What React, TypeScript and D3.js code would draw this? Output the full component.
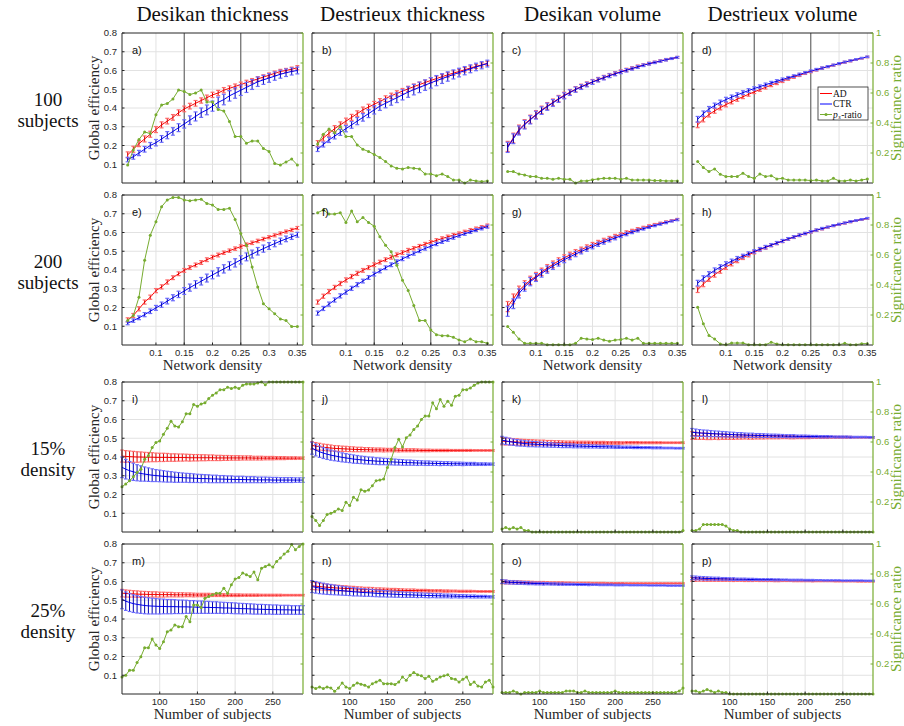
import React from "react";
import * as d3 from "d3";

// x values
const densities = [0.05, 0.06, 0.07, 0.08, 0.09, 0.1, 0.11, 0.12, 0.13, 0.14, 0.15, 0.16, 0.17, 0.18, 0.19, 0.2, 0.21, 0.22, 0.23, 0.24, 0.25, 0.26, 0.27, 0.28, 0.29, 0.3, 0.31, 0.32, 0.33, 0.34, 0.35];
const subjects = [50, 55, 60, 65, 70, 75, 80, 85, 90, 95, 100, 105, 110, 115, 120, 125, 130, 135, 140, 145, 150, 155, 160, 165, 170, 175, 180, 185, 190, 195, 200, 205, 210, 215, 220, 225, 230, 235, 240, 245, 250, 255, 260, 265, 270, 275, 280, 285, 290];

const densityTicks = [0.1, 0.15, 0.2, 0.25, 0.3, 0.35];
const subjectTicks = [100, 150, 200, 250];
const effTicks = [0.1, 0.2, 0.3, 0.4, 0.5, 0.6, 0.7, 0.8];
const ratioTicks = [0.2, 0.4, 0.6, 0.8, 1];
const markDensities = [0.15, 0.25];

const colTitles = ["Desikan thickness", "Destrieux thickness", "Desikan volume", "Destrieux volume"];
const rowTitles = [["100", "subjects"], ["200", "subjects"], ["15%", "density"], ["25%", "density"]];

// ---- rows 1-2: global efficiency vs network density ----
const adA = [0.150, 0.180, 0.210, 0.235, 0.260, 0.285, 0.310, 0.330, 0.350, 0.375, 0.395, 0.410, 0.425, 0.440, 0.455, 0.470, 0.480, 0.495, 0.505, 0.515, 0.525, 0.535, 0.545, 0.555, 0.565, 0.575, 0.585, 0.595, 0.600, 0.607, 0.615];
const ctrA = [0.125, 0.140, 0.160, 0.180, 0.200, 0.215, 0.235, 0.255, 0.275, 0.295, 0.315, 0.335, 0.355, 0.375, 0.390, 0.410, 0.430, 0.445, 0.465, 0.480, 0.495, 0.510, 0.525, 0.540, 0.550, 0.560, 0.570, 0.580, 0.588, 0.595, 0.600];
const ratioA = [0.12, 0.22, 0.29, 0.34, 0.33, 0.455, 0.52, 0.53, 0.56, 0.62, 0.61, 0.59, 0.60, 0.62, 0.54, 0.54, 0.49, 0.48, 0.41, 0.31, 0.31, 0.265, 0.28, 0.28, 0.23, 0.21, 0.13, 0.12, 0.14, 0.16, 0.12];

const adB = [0.210, 0.240, 0.265, 0.290, 0.310, 0.330, 0.350, 0.370, 0.390, 0.405, 0.420, 0.435, 0.450, 0.465, 0.478, 0.490, 0.502, 0.514, 0.525, 0.536, 0.547, 0.557, 0.567, 0.577, 0.586, 0.595, 0.604, 0.613, 0.622, 0.630, 0.638];
const ctrB = [0.180, 0.205, 0.230, 0.250, 0.270, 0.290, 0.310, 0.330, 0.350, 0.370, 0.390, 0.410, 0.425, 0.440, 0.455, 0.470, 0.485, 0.498, 0.510, 0.522, 0.534, 0.546, 0.557, 0.568, 0.579, 0.589, 0.599, 0.609, 0.619, 0.628, 0.637];
const ratioB = [0.26, 0.325, 0.36, 0.335, 0.377, 0.31, 0.31, 0.254, 0.225, 0.21, 0.19, 0.17, 0.143, 0.114, 0.098, 0.094, 0.103, 0.098, 0.094, 0.06, 0.06, 0.049, 0.06, 0.043, 0.02, 0.02, 0.0, 0.02, 0.014, 0.01, 0.014];

const adC = [0.195, 0.240, 0.285, 0.315, 0.340, 0.365, 0.390, 0.410, 0.430, 0.450, 0.468, 0.484, 0.500, 0.514, 0.527, 0.540, 0.552, 0.563, 0.574, 0.584, 0.594, 0.603, 0.612, 0.621, 0.629, 0.637, 0.644, 0.651, 0.658, 0.664, 0.670];
const ctrC = [0.190, 0.236, 0.280, 0.311, 0.337, 0.362, 0.386, 0.407, 0.427, 0.447, 0.465, 0.482, 0.498, 0.512, 0.525, 0.538, 0.550, 0.561, 0.572, 0.582, 0.592, 0.601, 0.610, 0.619, 0.628, 0.636, 0.643, 0.650, 0.657, 0.664, 0.670];
const ratioC = [0.076, 0.076, 0.06, 0.054, 0.043, 0.043, 0.031, 0.031, 0.025, 0.031, 0.025, 0.025, 0.0, 0.014, 0.014, 0.022, 0.027, 0.031, 0.031, 0.031, 0.025, 0.031, 0.02, 0.02, 0.02, 0.02, 0.016, 0.016, 0.014, 0.014, 0.014];

const adD = [0.310, 0.340, 0.365, 0.385, 0.402, 0.418, 0.433, 0.447, 0.460, 0.473, 0.486, 0.498, 0.510, 0.522, 0.533, 0.544, 0.555, 0.565, 0.575, 0.585, 0.594, 0.603, 0.612, 0.620, 0.628, 0.636, 0.644, 0.651, 0.658, 0.665, 0.672];
const ctrD = [0.340, 0.370, 0.395, 0.413, 0.430, 0.445, 0.458, 0.470, 0.482, 0.493, 0.504, 0.514, 0.524, 0.534, 0.543, 0.552, 0.561, 0.570, 0.579, 0.588, 0.597, 0.605, 0.613, 0.621, 0.629, 0.637, 0.645, 0.652, 0.659, 0.666, 0.673];
const ratioD = [0.143, 0.103, 0.076, 0.094, 0.058, 0.043, 0.043, 0.043, 0.065, 0.043, 0.031, 0.06, 0.043, 0.049, 0.027, 0.031, 0.02, 0.02, 0.02, 0.02, 0.016, 0.02, 0.014, 0.014, 0.031, 0.014, 0.014, 0.02, 0.014, 0.02, 0.027];

const adE = [0.134, 0.157, 0.193, 0.229, 0.255, 0.290, 0.310, 0.336, 0.359, 0.380, 0.398, 0.413, 0.427, 0.440, 0.455, 0.468, 0.480, 0.492, 0.503, 0.514, 0.525, 0.535, 0.545, 0.555, 0.565, 0.575, 0.585, 0.595, 0.605, 0.614, 0.624];
const ctrE = [0.116, 0.130, 0.145, 0.162, 0.180, 0.198, 0.215, 0.234, 0.252, 0.270, 0.288, 0.306, 0.323, 0.340, 0.357, 0.374, 0.390, 0.406, 0.422, 0.438, 0.454, 0.470, 0.485, 0.500, 0.514, 0.528, 0.541, 0.554, 0.566, 0.577, 0.588];
const ratioE = [0.163, 0.196, 0.319, 0.565, 0.732, 0.821, 0.922, 0.967, 0.984, 0.984, 0.967, 0.962, 0.967, 0.971, 0.944, 0.933, 0.904, 0.904, 0.911, 0.837, 0.743, 0.665, 0.52, 0.386, 0.275, 0.241, 0.208, 0.174, 0.163, 0.123, 0.123];

const adF = [0.229, 0.260, 0.285, 0.307, 0.328, 0.347, 0.365, 0.382, 0.398, 0.413, 0.428, 0.442, 0.455, 0.468, 0.481, 0.493, 0.505, 0.516, 0.527, 0.538, 0.548, 0.558, 0.568, 0.577, 0.586, 0.595, 0.604, 0.613, 0.621, 0.629, 0.637];
const ctrF = [0.170, 0.195, 0.218, 0.240, 0.262, 0.282, 0.302, 0.322, 0.341, 0.360, 0.378, 0.395, 0.412, 0.428, 0.444, 0.460, 0.474, 0.488, 0.502, 0.515, 0.527, 0.539, 0.551, 0.562, 0.573, 0.583, 0.593, 0.603, 0.613, 0.622, 0.631];
const ratioF = [0.882, 0.9, 0.873, 0.873, 0.882, 0.817, 0.893, 0.821, 0.85, 0.817, 0.792, 0.721, 0.665, 0.621, 0.531, 0.431, 0.364, 0.263, 0.163, 0.163, 0.1, 0.069, 0.062, 0.062, 0.051, 0.033, 0.022, 0.04, 0.022, 0.022, 0.011];

const adG = [0.205, 0.246, 0.290, 0.320, 0.345, 0.366, 0.390, 0.410, 0.430, 0.448, 0.465, 0.480, 0.495, 0.509, 0.522, 0.535, 0.547, 0.558, 0.569, 0.580, 0.590, 0.600, 0.609, 0.618, 0.626, 0.634, 0.642, 0.649, 0.656, 0.663, 0.670];
const ctrG = [0.180, 0.220, 0.275, 0.310, 0.338, 0.360, 0.382, 0.402, 0.421, 0.438, 0.455, 0.470, 0.485, 0.499, 0.512, 0.525, 0.537, 0.549, 0.560, 0.571, 0.582, 0.592, 0.602, 0.611, 0.620, 0.629, 0.637, 0.645, 0.653, 0.661, 0.668];
const ratioG = [0.123, 0.085, 0.04, 0.011, 0.011, 0.011, 0.011, 0.002, 0.002, 0.002, 0.002, 0.002, 0.011, 0.045, 0.04, 0.036, 0.045, 0.033, 0.025, 0.033, 0.036, 0.045, 0.033, 0.045, 0.011, 0.011, 0.011, 0.011, 0.011, 0.011, 0.011];

const adH = [0.295, 0.325, 0.352, 0.375, 0.395, 0.415, 0.433, 0.450, 0.466, 0.480, 0.495, 0.508, 0.520, 0.532, 0.543, 0.554, 0.565, 0.575, 0.585, 0.594, 0.603, 0.612, 0.620, 0.628, 0.636, 0.643, 0.650, 0.657, 0.663, 0.669, 0.675];
const ctrH = [0.330, 0.355, 0.378, 0.398, 0.416, 0.432, 0.447, 0.461, 0.474, 0.487, 0.499, 0.511, 0.522, 0.533, 0.544, 0.555, 0.566, 0.576, 0.586, 0.595, 0.604, 0.613, 0.621, 0.629, 0.637, 0.644, 0.651, 0.658, 0.664, 0.670, 0.676];
const ratioH = [0.252, 0.141, 0.063, 0.04, 0.007, 0.002, 0.013, 0.013, 0.013, 0.002, 0.002, 0.002, 0.002, 0.018, 0.007, 0.002, 0.002, 0.002, 0.002, 0.002, 0.002, 0.002, 0.002, 0.002, 0.002, 0.002, 0.011, 0.002, 0.002, 0.009, 0.009];

// error half-widths, density rows
const errThickAD = [0.016, 0.016, 0.016, 0.016, 0.016, 0.016, 0.016, 0.015, 0.015, 0.015, 0.015, 0.015, 0.015, 0.014, 0.014, 0.014, 0.014, 0.014, 0.013, 0.013, 0.013, 0.013, 0.012, 0.012, 0.012, 0.012, 0.012, 0.011, 0.011, 0.011, 0.011];
const errThickCTR = [0.012, 0.013, 0.014, 0.015, 0.016, 0.017, 0.018, 0.019, 0.020, 0.021, 0.022, 0.023, 0.024, 0.025, 0.026, 0.027, 0.028, 0.028, 0.028, 0.028, 0.028, 0.027, 0.026, 0.025, 0.024, 0.023, 0.022, 0.021, 0.020, 0.019, 0.018];
const errThick200AD = [0.011, 0.011, 0.011, 0.011, 0.011, 0.011, 0.011, 0.011, 0.010, 0.010, 0.010, 0.010, 0.010, 0.010, 0.010, 0.010, 0.010, 0.009, 0.009, 0.009, 0.009, 0.009, 0.009, 0.009, 0.009, 0.008, 0.008, 0.008, 0.008, 0.008, 0.008];
const errThick200CTR = [0.008, 0.009, 0.010, 0.011, 0.012, 0.013, 0.014, 0.015, 0.016, 0.017, 0.018, 0.019, 0.020, 0.020, 0.021, 0.021, 0.022, 0.022, 0.022, 0.022, 0.022, 0.021, 0.021, 0.020, 0.019, 0.018, 0.017, 0.016, 0.015, 0.014, 0.013];
const errVolLarge = [0.027, 0.026, 0.024, 0.023, 0.022, 0.021, 0.020, 0.019, 0.018, 0.017, 0.016, 0.015, 0.014, 0.013, 0.012, 0.012, 0.011, 0.011, 0.010, 0.010, 0.009, 0.009, 0.008, 0.008, 0.007, 0.007, 0.006, 0.006, 0.006, 0.005, 0.005];
const errVolSmall = [0.015, 0.014, 0.013, 0.013, 0.012, 0.012, 0.011, 0.011, 0.010, 0.010, 0.009, 0.009, 0.009, 0.008, 0.008, 0.008, 0.007, 0.007, 0.007, 0.006, 0.006, 0.006, 0.006, 0.005, 0.005, 0.005, 0.005, 0.005, 0.004, 0.004, 0.004];

// ---- rows 3-4: global efficiency vs number of subjects ----
const adI = [0.405, 0.403, 0.402, 0.401, 0.400, 0.400, 0.399, 0.399, 0.399, 0.398,
  0.398, 0.398, 0.398, 0.397, 0.397, 0.397, 0.397, 0.397, 0.396, 0.396,
  0.396, 0.396, 0.396, 0.396, 0.396, 0.395, 0.395, 0.395, 0.395, 0.395,
  0.395, 0.395, 0.395, 0.395, 0.395, 0.394, 0.394, 0.394, 0.394, 0.394,
  0.394, 0.394, 0.394, 0.394, 0.394, 0.394, 0.394, 0.394, 0.394];
const ctrI = [0.345, 0.335, 0.327, 0.321, 0.316, 0.312, 0.309, 0.306, 0.303, 0.301,
  0.299, 0.297, 0.295, 0.294, 0.292, 0.291, 0.290, 0.289, 0.288, 0.287,
  0.286, 0.285, 0.285, 0.284, 0.283, 0.283, 0.282, 0.282, 0.281, 0.281,
  0.280, 0.280, 0.280, 0.279, 0.279, 0.279, 0.278, 0.278, 0.278, 0.278,
  0.277, 0.277, 0.277, 0.277, 0.277, 0.277, 0.277, 0.277, 0.277];
const ratioI = [0.302, 0.32, 0.342, 0.368, 0.397, 0.419, 0.485, 0.508, 0.563, 0.596,
  0.607, 0.651, 0.691, 0.739, 0.706, 0.70, 0.735, 0.788, 0.788, 0.85,
  0.839, 0.854, 0.861, 0.89, 0.912, 0.927, 0.949, 0.949, 0.965, 0.956,
  0.965, 0.956, 0.978, 0.987, 0.987, 0.987, 0.993, 1, 0.982, 1,
  1, 1, 1, 1, 1, 1, 1, 1, 1];

const adJ = [0.462, 0.458, 0.455, 0.452, 0.450, 0.448, 0.446, 0.445, 0.444, 0.443,
  0.442, 0.441, 0.440, 0.440, 0.439, 0.439, 0.438, 0.438, 0.438, 0.437,
  0.437, 0.437, 0.437, 0.436, 0.436, 0.436, 0.436, 0.436, 0.436, 0.435,
  0.435, 0.435, 0.435, 0.435, 0.435, 0.435, 0.435, 0.435, 0.435, 0.435,
  0.435, 0.435, 0.435, 0.435, 0.435, 0.435, 0.435, 0.435, 0.435];
const ctrJ = [0.447, 0.437, 0.428, 0.421, 0.415, 0.410, 0.406, 0.402, 0.398, 0.395,
  0.392, 0.389, 0.387, 0.385, 0.383, 0.381, 0.380, 0.378, 0.377, 0.376,
  0.375, 0.374, 0.373, 0.372, 0.371, 0.370, 0.370, 0.369, 0.368, 0.368,
  0.367, 0.367, 0.366, 0.366, 0.365, 0.365, 0.365, 0.364, 0.364, 0.364,
  0.363, 0.363, 0.363, 0.363, 0.362, 0.362, 0.362, 0.362, 0.362];
const ratioJ = [0.103, 0.077, 0.044, 0.077, 0.117, 0.125, 0.136, 0.154, 0.143, 0.198,
  0.176, 0.231, 0.214, 0.282, 0.271, 0.28, 0.309, 0.342, 0.346, 0.353,
  0.43, 0.485, 0.563, 0.618, 0.567, 0.629, 0.647, 0.684, 0.706, 0.75,
  0.773, 0.773, 0.861, 0.821, 0.883, 0.839, 0.872, 0.845, 0.905, 0.912,
  0.949, 0.949, 0.96, 0.978, 0.993, 1, 1, 1, 1];

const adK = [0.485, 0.483, 0.482, 0.481, 0.480, 0.479, 0.479, 0.478, 0.478, 0.477,
  0.477, 0.477, 0.476, 0.476, 0.476, 0.476, 0.475, 0.475, 0.475, 0.475,
  0.475, 0.475, 0.475, 0.475, 0.475, 0.475, 0.475, 0.475, 0.475, 0.475,
  0.475, 0.475, 0.475, 0.476, 0.476, 0.476, 0.476, 0.476, 0.476, 0.476,
  0.476, 0.476, 0.476, 0.476, 0.476, 0.476, 0.476, 0.476, 0.476];
const ctrK = [0.490, 0.486, 0.482, 0.479, 0.476, 0.474, 0.472, 0.470, 0.469, 0.468,
  0.467, 0.466, 0.465, 0.464, 0.463, 0.462, 0.461, 0.460, 0.460, 0.459,
  0.458, 0.458, 0.457, 0.457, 0.456, 0.456, 0.455, 0.455, 0.454, 0.454,
  0.453, 0.453, 0.452, 0.452, 0.452, 0.451, 0.451, 0.450, 0.450, 0.450,
  0.449, 0.449, 0.449, 0.448, 0.448, 0.448, 0.447, 0.447, 0.447];
const ratioK = [0.02, 0.03, 0.02, 0.03, 0.02, 0.03, 0.01, 0.01, 0, 0,
  0, 0, 0, 0, 0, 0, 0, 0, 0, 0,
  0, 0, 0, 0, 0, 0, 0, 0, 0, 0,
  0, 0, 0, 0, 0, 0, 0, 0, 0, 0,
  0, 0, 0, 0, 0, 0, 0, 0, 0.01];

const adL = [0.515, 0.513, 0.512, 0.511, 0.510, 0.509, 0.509, 0.508, 0.508, 0.508,
  0.507, 0.507, 0.507, 0.507, 0.507, 0.506, 0.506, 0.506, 0.506, 0.506,
  0.506, 0.506, 0.506, 0.506, 0.506, 0.506, 0.505, 0.505, 0.505, 0.505,
  0.505, 0.505, 0.505, 0.505, 0.505, 0.505, 0.505, 0.505, 0.505, 0.505,
  0.505, 0.505, 0.505, 0.505, 0.505, 0.505, 0.505, 0.505, 0.505];
const ctrL = [0.532, 0.530, 0.528, 0.527, 0.526, 0.525, 0.524, 0.523, 0.522, 0.521,
  0.520, 0.519, 0.518, 0.518, 0.517, 0.516, 0.516, 0.515, 0.515, 0.514,
  0.514, 0.513, 0.513, 0.512, 0.512, 0.511, 0.511, 0.511, 0.510, 0.510,
  0.510, 0.509, 0.509, 0.509, 0.508, 0.508, 0.508, 0.508, 0.507, 0.507,
  0.507, 0.507, 0.506, 0.506, 0.506, 0.506, 0.506, 0.505, 0.505];
const ratioL = [0.01, 0.01, 0.02, 0.05, 0.05, 0.05, 0.05, 0.05, 0.05, 0.04,
  0.02, 0.01, 0.01, 0, 0, 0, 0, 0, 0, 0,
  0, 0, 0, 0, 0, 0, 0, 0, 0, 0,
  0, 0, 0, 0, 0, 0, 0, 0, 0, 0,
  0, 0, 0, 0, 0, 0, 0, 0, 0];

const adM = [0.538, 0.536, 0.535, 0.534, 0.533, 0.532, 0.532, 0.531, 0.531, 0.531,
  0.530, 0.530, 0.530, 0.530, 0.529, 0.529, 0.529, 0.529, 0.529, 0.528,
  0.528, 0.528, 0.528, 0.528, 0.528, 0.528, 0.528, 0.527, 0.527, 0.527,
  0.527, 0.527, 0.527, 0.527, 0.527, 0.527, 0.527, 0.527, 0.527, 0.527,
  0.527, 0.527, 0.527, 0.527, 0.527, 0.527, 0.527, 0.527, 0.527];
const ctrM = [0.505, 0.495, 0.488, 0.482, 0.478, 0.475, 0.472, 0.470, 0.469, 0.468,
  0.467, 0.467, 0.466, 0.466, 0.466, 0.465, 0.465, 0.465, 0.464, 0.464,
  0.463, 0.463, 0.462, 0.462, 0.461, 0.461, 0.460, 0.459, 0.459, 0.458,
  0.457, 0.456, 0.455, 0.455, 0.454, 0.453, 0.452, 0.452, 0.451, 0.451,
  0.450, 0.450, 0.449, 0.449, 0.449, 0.448, 0.448, 0.448, 0.448];
const ratioM = [0.114, 0.125, 0.159, 0.159, 0.21, 0.248, 0.308, 0.308, 0.366, 0.326,
  0.304, 0.348, 0.415, 0.426, 0.46, 0.449, 0.449, 0.516, 0.482, 0.594,
  0.594, 0.576, 0.638, 0.65, 0.661, 0.672, 0.672, 0.705, 0.672, 0.728,
  0.766, 0.777, 0.806, 0.795, 0.783, 0.813, 0.761, 0.839, 0.85, 0.861,
  0.846, 0.884, 0.906, 0.933, 0.951, 0.996, 0.962, 0.984, 1.0];

const adN = [0.577, 0.575, 0.573, 0.571, 0.569, 0.568, 0.566, 0.565, 0.564, 0.563,
  0.562, 0.561, 0.560, 0.559, 0.558, 0.558, 0.557, 0.556, 0.556, 0.555,
  0.555, 0.554, 0.554, 0.553, 0.553, 0.552, 0.552, 0.552, 0.551, 0.551,
  0.551, 0.550, 0.550, 0.550, 0.550, 0.549, 0.549, 0.549, 0.549, 0.548,
  0.548, 0.548, 0.548, 0.548, 0.547, 0.547, 0.547, 0.547, 0.547];
const ctrN = [0.573, 0.569, 0.565, 0.562, 0.559, 0.557, 0.555, 0.553, 0.551, 0.549,
  0.547, 0.545, 0.544, 0.542, 0.541, 0.540, 0.539, 0.537, 0.536, 0.535,
  0.534, 0.533, 0.532, 0.531, 0.530, 0.529, 0.529, 0.528, 0.527, 0.527,
  0.526, 0.525, 0.525, 0.524, 0.524, 0.523, 0.523, 0.522, 0.522, 0.521,
  0.521, 0.521, 0.520, 0.520, 0.519, 0.519, 0.519, 0.518, 0.518];
const ratioN = [0.047, 0.036, 0.047, 0.036, 0.047, 0.04, 0.018, 0.04, 0.074, 0.047,
  0.036, 0.058, 0.074, 0.065, 0.058, 0.047, 0.069, 0.08, 0.092, 0.069,
  0.069, 0.069, 0.063, 0.08, 0.114, 0.092, 0.125, 0.143, 0.129, 0.121,
  0.103, 0.118, 0.085, 0.098, 0.114, 0.121, 0.129, 0.103, 0.098, 0.08,
  0.098, 0.114, 0.063, 0.08, 0.054, 0.047, 0.08, 0.092, 0.047];

const adO = [0.598, 0.597, 0.596, 0.596, 0.595, 0.595, 0.594, 0.594, 0.594, 0.593,
  0.593, 0.593, 0.593, 0.592, 0.592, 0.592, 0.592, 0.592, 0.592, 0.591,
  0.591, 0.591, 0.591, 0.591, 0.591, 0.591, 0.591, 0.591, 0.590, 0.590,
  0.590, 0.590, 0.590, 0.590, 0.590, 0.590, 0.590, 0.590, 0.590, 0.590,
  0.590, 0.590, 0.590, 0.590, 0.590, 0.590, 0.590, 0.590, 0.590];
const ctrO = [0.600, 0.598, 0.596, 0.595, 0.594, 0.593, 0.592, 0.591, 0.590, 0.589,
  0.589, 0.588, 0.588, 0.587, 0.587, 0.586, 0.586, 0.585, 0.585, 0.585,
  0.584, 0.584, 0.584, 0.583, 0.583, 0.583, 0.582, 0.582, 0.582, 0.582,
  0.581, 0.581, 0.581, 0.581, 0.580, 0.580, 0.580, 0.580, 0.580, 0.579,
  0.579, 0.579, 0.579, 0.579, 0.578, 0.578, 0.578, 0.578, 0.578];
const ratioO = [0.01, 0.01, 0.01, 0.02, 0.01, 0, 0.01, 0.01, 0.01, 0.01,
  0.02, 0.01, 0.01, 0.01, 0.01, 0.01, 0.01, 0.02, 0.02, 0.02,
  0.01, 0.01, 0.02, 0.01, 0.01, 0.01, 0.01, 0.01, 0.01, 0.01,
  0.02, 0.01, 0.01, 0.01, 0.01, 0.01, 0.01, 0.01, 0.01, 0.01,
  0.01, 0.01, 0.01, 0.01, 0.01, 0.01, 0.01, 0.02, 0.04];

const adP = [0.612, 0.611, 0.611, 0.610, 0.610, 0.609, 0.609, 0.609, 0.608, 0.608,
  0.608, 0.607, 0.607, 0.607, 0.606, 0.606, 0.606, 0.606, 0.605, 0.605,
  0.605, 0.605, 0.604, 0.604, 0.604, 0.604, 0.604, 0.603, 0.603, 0.603,
  0.603, 0.603, 0.602, 0.602, 0.602, 0.602, 0.602, 0.602, 0.601, 0.601,
  0.601, 0.601, 0.601, 0.601, 0.600, 0.600, 0.600, 0.600, 0.600];
const ctrP = [0.620, 0.619, 0.618, 0.617, 0.616, 0.616, 0.615, 0.615, 0.614, 0.614,
  0.613, 0.613, 0.612, 0.612, 0.612, 0.611, 0.611, 0.611, 0.610, 0.610,
  0.610, 0.610, 0.609, 0.609, 0.609, 0.609, 0.608, 0.608, 0.608, 0.608,
  0.607, 0.607, 0.607, 0.607, 0.607, 0.606, 0.606, 0.606, 0.606, 0.606,
  0.605, 0.605, 0.605, 0.605, 0.605, 0.605, 0.604, 0.604, 0.604];
const ratioP = [0.02, 0.02, 0.01, 0.02, 0.03, 0.02, 0.01, 0.02, 0.01, 0.01,
  0, 0, 0, 0, 0, 0, 0, 0, 0, 0,
  0, 0, 0, 0, 0, 0, 0, 0, 0, 0,
  0, 0, 0, 0, 0, 0, 0, 0, 0, 0,
  0, 0, 0, 0, 0, 0, 0, 0, 0];

// error half-widths, subject rows
const errSubjXL = [0.050, 0.049, 0.048, 0.047, 0.046, 0.045, 0.044, 0.043, 0.042, 0.041,
  0.040, 0.039, 0.038, 0.038, 0.037, 0.036, 0.036, 0.035, 0.034, 0.034,
  0.033, 0.033, 0.032, 0.032, 0.031, 0.031, 0.030, 0.030, 0.029, 0.029,
  0.029, 0.028, 0.028, 0.027, 0.027, 0.027, 0.026, 0.026, 0.026, 0.025,
  0.025, 0.025, 0.024, 0.024, 0.024, 0.023, 0.023, 0.023, 0.023];
const errSubjL = [0.055, 0.052, 0.049, 0.046, 0.043, 0.041, 0.038, 0.036, 0.034, 0.032,
  0.031, 0.030, 0.029, 0.028, 0.027, 0.026, 0.025, 0.024, 0.024, 0.023,
  0.022, 0.022, 0.021, 0.021, 0.020, 0.020, 0.019, 0.019, 0.018, 0.018,
  0.017, 0.017, 0.017, 0.016, 0.016, 0.016, 0.015, 0.015, 0.015, 0.014,
  0.014, 0.014, 0.013, 0.013, 0.013, 0.013, 0.012, 0.012, 0.012];
const errSubjM = [0.032, 0.031, 0.030, 0.029, 0.028, 0.027, 0.026, 0.025, 0.024, 0.023,
  0.022, 0.022, 0.021, 0.020, 0.020, 0.019, 0.019, 0.018, 0.018, 0.017,
  0.017, 0.016, 0.016, 0.015, 0.015, 0.014, 0.014, 0.013, 0.013, 0.012,
  0.012, 0.012, 0.011, 0.011, 0.011, 0.010, 0.010, 0.010, 0.009, 0.009,
  0.009, 0.008, 0.008, 0.008, 0.007, 0.007, 0.007, 0.006, 0.006];
const errSubjS = [0.020, 0.019, 0.018, 0.017, 0.017, 0.016, 0.015, 0.015, 0.014, 0.014,
  0.013, 0.013, 0.012, 0.012, 0.011, 0.011, 0.011, 0.010, 0.010, 0.010,
  0.009, 0.009, 0.009, 0.009, 0.008, 0.008, 0.008, 0.008, 0.007, 0.007,
  0.007, 0.007, 0.006, 0.006, 0.006, 0.006, 0.006, 0.005, 0.005, 0.005,
  0.005, 0.005, 0.005, 0.004, 0.004, 0.004, 0.004, 0.004, 0.004];
const errSubjXS = [0.010, 0.010, 0.009, 0.009, 0.009, 0.008, 0.008, 0.008, 0.007, 0.007,
  0.007, 0.007, 0.006, 0.006, 0.006, 0.006, 0.006, 0.005, 0.005, 0.005,
  0.005, 0.005, 0.005, 0.005, 0.004, 0.004, 0.004, 0.004, 0.004, 0.004,
  0.004, 0.004, 0.004, 0.003, 0.003, 0.003, 0.003, 0.003, 0.003, 0.003,
  0.003, 0.003, 0.003, 0.003, 0.003, 0.003, 0.003, 0.003, 0.003];

const panels = [
  { label: "a)", row: 0, col: 0, ad: adA, ctr: ctrA, errAd: errThickAD, errCtr: errThickCTR, ratio: ratioA },
  { label: "b)", row: 0, col: 1, ad: adB, ctr: ctrB, errAd: errThickAD, errCtr: errThickCTR, ratio: ratioB },
  { label: "c)", row: 0, col: 2, ad: adC, ctr: ctrC, errAd: errVolLarge, errCtr: errVolLarge, ratio: ratioC },
  { label: "d)", row: 0, col: 3, ad: adD, ctr: ctrD, errAd: errVolSmall, errCtr: errVolSmall, ratio: ratioD },
  { label: "e)", row: 1, col: 0, ad: adE, ctr: ctrE, errAd: errThick200AD, errCtr: errThick200CTR, ratio: ratioE },
  { label: "f)", row: 1, col: 1, ad: adF, ctr: ctrF, errAd: errThick200AD, errCtr: errThick200AD, ratio: ratioF },
  { label: "g)", row: 1, col: 2, ad: adG, ctr: ctrG, errAd: errVolLarge, errCtr: errVolLarge, ratio: ratioG },
  { label: "h)", row: 1, col: 3, ad: adH, ctr: ctrH, errAd: errVolSmall, errCtr: errVolSmall, ratio: ratioH },
  { label: "i)", row: 2, col: 0, ad: adI, ctr: ctrI, errAd: errSubjM, errCtr: errSubjL, ratio: ratioI },
  { label: "j)", row: 2, col: 1, ad: adJ, ctr: ctrJ, errAd: errSubjS, errCtr: errSubjM, ratio: ratioJ },
  { label: "k)", row: 2, col: 2, ad: adK, ctr: ctrK, errAd: errSubjS, errCtr: errSubjS, ratio: ratioK },
  { label: "l)", row: 2, col: 3, ad: adL, ctr: ctrL, errAd: errSubjS, errCtr: errSubjS, ratio: ratioL },
  { label: "m)", row: 3, col: 0, ad: adM, ctr: ctrM, errAd: errSubjS, errCtr: errSubjXL, ratio: ratioM },
  { label: "n)", row: 3, col: 1, ad: adN, ctr: ctrN, errAd: errSubjS, errCtr: errSubjM, ratio: ratioN },
  { label: "o)", row: 3, col: 2, ad: adO, ctr: ctrO, errAd: errSubjXS, errCtr: errSubjXS, ratio: ratioO },
  { label: "p)", row: 3, col: 3, ad: adP, ctr: ctrP, errAd: errSubjXS, errCtr: errSubjXS, ratio: ratioP },
];

const W = 904;
const H = 726;
const colLeft = [122, 312, 502, 692];
const rowTop = [33, 195, 382, 544];
const PW = 181;
const PH = 150;

const SERIF = "Liberation Serif, DejaVu Serif, serif";
const SANS = "Liberation Sans, Arial, sans-serif";
const RED = "#ff0000";
const BLUE = "#0000ff";
const GREEN = "#77ac30";
const AXIS = "#262626";
const GRID = "#e2e2e2";

const serif = (size: number) => ({ fontFamily: SERIF, fontSize: size });
const sans = (size: number) => ({ fontFamily: SANS, fontSize: size });

type Scale = d3.ScaleLinear<number, number>;

function ErrorSeries({ xs, mean, err, x, y, color, stem, capColor, cap }: {
  xs: number[]; mean: number[]; err: number[]; x: Scale; y: Scale;
  color: string; stem: string; capColor: string; cap: number;
}) {
  const line = d3.line<number>().x((_, i) => x(xs[i])).y((d) => y(d));
  return (
    <g>
      <path d={line(mean) || ""} fill="none" stroke={color} strokeWidth={1} />
      {mean.map((m, i) => {
        const cx = x(xs[i]);
        const lo = y(m - err[i]);
        const hi = y(m + err[i]);
        return (
          <g key={i}>
            <line x1={cx} x2={cx} y1={lo} y2={hi} stroke={stem} strokeWidth={1} />
            <line x1={cx - cap} x2={cx + cap} y1={lo} y2={lo} stroke={capColor} strokeWidth={1.2} />
            <line x1={cx - cap} x2={cx + cap} y1={hi} y2={hi} stroke={capColor} strokeWidth={1.2} />
          </g>
        );
      })}
    </g>
  );
}

function Panel({ p }: { p: (typeof panels)[number] }) {
  const x0 = colLeft[p.col];
  const y0 = rowTop[p.row];
  const isDensity = p.row < 2;
  const xs = isDensity ? densities : subjects;
  const xTicks = isDensity ? densityTicks : subjectTicks;
  const x = d3.scaleLinear().domain(isDensity ? [0.04, 0.36] : [50, 290]).range([x0, x0 + PW]);
  const y = d3.scaleLinear().domain([0, 0.8]).range([y0 + PH, y0]);
  const yR = d3.scaleLinear().domain([0, 1]).range([y0 + PH, y0]);
  const ratioLine = d3.line<number>().x((_, i) => x(xs[i])).y((d) => yR(d));
  const bottom = y0 + PH;
  const right = x0 + PW;
  const cap = isDensity ? 2 : 1.8;
  const showXLabels = p.row === 1 || p.row === 3;

  return (
    <g>
      {/* grid */}
      {effTicks.slice(0, 7).map((t) => (
        <line key={"gy" + t} x1={x0} x2={right} y1={y(t)} y2={y(t)} stroke={GRID} strokeWidth={1} />
      ))}
      {xTicks.map((t) => (
        <line key={"gx" + t} x1={x(t)} x2={x(t)} y1={y0} y2={bottom} stroke={GRID} strokeWidth={1} />
      ))}
      {isDensity &&
        markDensities.map((t) => (
          <line key={"mk" + t} x1={x(t)} x2={x(t)} y1={y0} y2={bottom} stroke="#555" strokeWidth={1} />
        ))}

      <ErrorSeries xs={xs} mean={p.ad} err={p.errAd} x={x} y={y} color={RED} stem="#d80000" capColor="#ff6a6a" cap={cap} />
      <ErrorSeries xs={xs} mean={p.ctr} err={p.errCtr} x={x} y={y} color={BLUE} stem="#0000b4" capColor="#6b6bff" cap={cap} />

      <path d={ratioLine(p.ratio) || ""} fill="none" stroke={GREEN} strokeWidth={1} />
      {p.ratio.map((r, i) => (
        <circle key={"r" + i} cx={x(xs[i])} cy={yR(r)} r={1.5} fill={GREEN} />
      ))}

      {/* axes box */}
      <line x1={x0} x2={right} y1={y0} y2={y0} stroke={AXIS} strokeWidth={1} />
      <line x1={x0} x2={right} y1={bottom} y2={bottom} stroke={AXIS} strokeWidth={1} />
      <line x1={x0} x2={x0} y1={y0} y2={bottom} stroke={AXIS} strokeWidth={1} />
      <line x1={right} x2={right} y1={y0} y2={bottom} stroke={GREEN} strokeWidth={1.2} />

      {effTicks.map((t) => (
        <line key={"ty" + t} x1={x0} x2={x0 + 2.5} y1={y(t)} y2={y(t)} stroke={AXIS} strokeWidth={1} />
      ))}
      {ratioTicks.map((t) => (
        <line key={"tr" + t} x1={right - 2.5} x2={right} y1={yR(t)} y2={yR(t)} stroke={GREEN} strokeWidth={1} />
      ))}
      {xTicks.map((t) => (
        <line key={"tx" + t} x1={x(t)} x2={x(t)} y1={bottom} y2={bottom - 2.5} stroke={AXIS} strokeWidth={1} />
      ))}

      {/* tick labels */}
      {p.col === 0 &&
        effTicks.map((t) => (
          <text key={"ly" + t} x={x0 - 5} y={y(t)} dy="0.35em" textAnchor="end" style={sans(9.5)} fill={AXIS}>
            {t}
          </text>
        ))}
      {p.col === 3 &&
        ratioTicks.map((t) => (
          <text key={"lr" + t} x={right + 3} y={yR(t)} dy="0.35em" textAnchor="start" style={sans(9.5)} fill={GREEN}>
            {t}
          </text>
        ))}
      {showXLabels &&
        xTicks.map((t) => (
          <text key={"lx" + t} x={x(t)} y={bottom + 11} textAnchor="middle" style={sans(9.5)} fill={AXIS}>
            {t}
          </text>
        ))}
      {showXLabels && (
        <text x={x0 + PW / 2} y={bottom + 25} textAnchor="middle" style={serif(15)} fill={AXIS}>
          {isDensity ? "Network density" : "Number of subjects"}
        </text>
      )}
      {p.col === 0 && (
        <text transform={`translate(99,${y0 + PH / 2}) rotate(-90)`} textAnchor="middle" style={serif(15)} fill={AXIS}>
          Global efficiency
        </text>
      )}
      {p.col === 3 && (
        <text transform={`translate(901,${y0 + PH / 2}) rotate(-90)`} textAnchor="middle" style={serif(15)} fill={GREEN}>
          Significance ratio
        </text>
      )}

      <text x={x0 + 10} y={y0 + 21} style={sans(11)} fill="#111">
        {p.label}
      </text>
    </g>
  );
}

function Legend() {
  const lx = 818;
  const ly = 87;
  const rows = [
    { key: "AD", color: RED, y: ly + 6.5 },
    { key: "CTR", color: BLUE, y: ly + 17 },
    { key: "ps", color: GREEN, y: ly + 27.5 },
  ];
  return (
    <g>
      <rect x={lx} y={ly} width={50} height={33} fill="white" stroke={AXIS} strokeWidth={0.8} />
      {rows.map((r) => (
        <g key={r.key}>
          <line x1={lx + 2} x2={lx + 14} y1={r.y} y2={r.y} stroke={r.color} strokeWidth={1} />
          {r.key === "ps" && <circle cx={lx + 8} cy={r.y} r={1.5} fill={GREEN} />}
          {r.key !== "ps" ? (
            <text x={lx + 15} y={r.y} dy="0.33em" style={serif(9.5)} fill="#111">
              {r.key}
            </text>
          ) : (
            <text x={lx + 15} y={r.y} dy="0.33em" style={serif(9.5)} fill="#111">
              <tspan fontStyle="italic">p</tspan>
              <tspan fontStyle="italic" fontSize={6.5} dx={0.6} dy={1.5}>s</tspan>
              <tspan dx={0.3} dy={-1.5}>-ratio</tspan>
            </text>
          )}
        </g>
      ))}
    </g>
  );
}

export default function App() {
  return (
    <div style={{ position: "absolute", left: 0, top: 0 }}>
      <svg width={W} height={H} style={{ display: "block", background: "white" }}>
        {colTitles.map((t, i) => (
          <text key={t} x={colLeft[i] + PW / 2} y={21} textAnchor="middle" style={serif(21)} fill="#111">
            {t}
          </text>
        ))}
        {rowTitles.map((lines, i) => (
          <text key={i} textAnchor="middle" style={serif(19)} fill="#111">
            <tspan x={48} y={rowTop[i] + 73}>{lines[0]}</tspan>
            <tspan x={48} y={rowTop[i] + 94}>{lines[1]}</tspan>
          </text>
        ))}
        {panels.map((p) => (
          <Panel key={p.label} p={p} />
        ))}
        <Legend />
      </svg>
    </div>
  );
}
